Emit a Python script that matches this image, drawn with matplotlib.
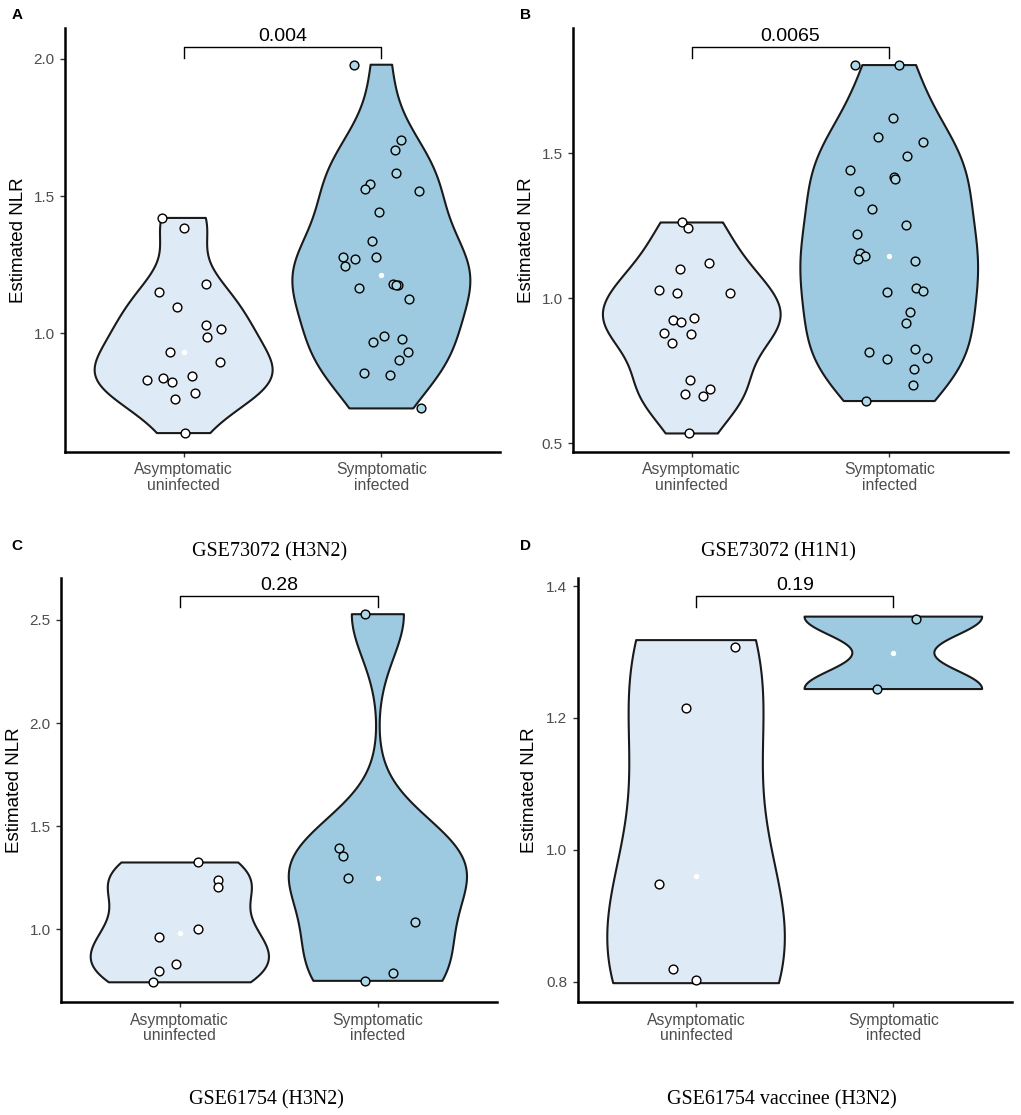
import numpy as np
import matplotlib
matplotlib.use("Agg")
import matplotlib.pyplot as plt
import matplotlib.transforms as mtransforms

plt.rcParams['font.family'] = ['Liberation Sans', 'DejaVu Sans']

# ---------------- data ----------------
categories = ["Asymptomatic\nuninfected", "Symptomatic\ninfected"]
captions = ["GSE73072 (H3N2)", "GSE73072 (H1N1)", "GSE61754 (H3N2)", "GSE61754 vaccinee (H3N2)"]
panel_letters = ["A", "B", "C", "D"]
p_values = ["0.004", "0.0065", "0.28", "0.19"]

# Panel A: GSE73072 (H3N2)
a_uninf = [1.420, 1.383, 1.179, 1.148, 1.094, 1.028, 1.013, 0.987, 0.931, 0.894,
           0.845, 0.830, 0.835, 0.822, 0.783, 0.760, 0.635]
a_uninf_jit = [-0.108, 0.002, 0.115, -0.125, -0.034, 0.115, 0.187, 0.118, -0.071, 0.185,
               0.042, -0.184, -0.103, -0.057, 0.057, -0.046, 0.008]
a_inf = [1.979, 1.704, 1.669, 1.584, 1.543, 1.524, 1.519, 1.443, 1.337, 1.279,
         1.269, 1.279, 1.243, 1.163, 1.178, 1.174, 1.125, 0.990, 0.968, 0.978,
         0.932, 0.903, 0.855, 0.847, 0.725, 1.176]
a_inf_jit = [-0.140, 0.098, 0.071, 0.076, -0.059, -0.083, 0.189, -0.012, -0.049, -0.196,
             -0.132, -0.027, -0.182, -0.111, 0.059, 0.086, 0.140, 0.012, -0.040, 0.106,
             0.137, 0.088, -0.086, 0.044, 0.201, 0.072]

# Panel B: GSE73072 (H1N1)
b_uninf = [1.2615, 1.244, 1.122, 1.100, 1.028, 1.018, 1.017, 0.925, 0.919, 0.931,
           0.881, 0.876, 0.847, 0.717, 0.688, 0.669, 0.662, 0.533]
b_uninf_jit = [-0.047, -0.018, 0.087, -0.059, -0.166, -0.074, 0.193, -0.097, -0.054, 0.012,
               -0.140, -0.005, -0.101, -0.010, 0.092, -0.035, 0.059, -0.012]
b_inf = [1.805, 1.805, 1.622, 1.555, 1.539, 1.491, 1.442, 1.417, 1.410, 1.369,
         1.309, 1.253, 1.222, 1.156, 1.146, 1.136, 1.127, 1.020, 1.036, 1.025,
         0.952, 0.915, 0.815, 0.825, 0.791, 0.793, 0.756, 0.702, 0.645]
b_inf_jit = [-0.173, 0.050, 0.020, -0.055, 0.173, 0.089, -0.198, 0.024, 0.027, -0.155,
             -0.089, 0.084, -0.165, -0.150, -0.124, -0.160, 0.129, -0.010, 0.134, 0.171,
             0.104, 0.087, -0.103, 0.129, -0.013, 0.193, 0.126, 0.119, -0.116]

# Panel C: GSE61754 (H3N2)
c_uninf = [1.324, 1.239, 1.205, 1.002, 0.963, 0.834, 0.797, 0.743]
c_uninf_jit = [0.091, 0.195, 0.195, 0.091, -0.104, -0.018, -0.106, -0.136]
c_inf = [2.528, 1.392, 1.356, 1.251, 1.034, 0.786, 0.750]
c_inf_jit = [-0.067, -0.195, -0.178, -0.151, 0.187, 0.076, -0.067]

# Panel D: GSE61754 vaccinee (H3N2)
d_uninf = [1.318, 1.2155, 0.960, 0.819, 0.798]
d_uninf_jit = [0.199, -0.051, -0.187, -0.118, 0.0]
d_uninf_yjit = [-0.010, 0.0, -0.012, 0.0, 0.0045]
d_inf = [1.3536, 1.2438]
d_inf_jit = [0.116, -0.081]
d_inf_yjit = [-0.004, 0.0006]

y_ticks = [[1.0, 1.5, 2.0], [0.5, 1.0, 1.5], [1.0, 1.5, 2.0, 2.5], [0.8, 1.0, 1.2, 1.4]]
y_limits = [(0.566, 2.113), (0.469, 1.933), (0.646, 2.705), (0.769, 1.4126)]

# ---------------- styling ----------------
violin_fill = ["#DEEBF7", "#9ECAE1"]
point_fill = ["#FFFFFF", "#ADD8E6"]
W, H = 1021, 1115
fig = plt.figure(figsize=(W / 100, H / 100), dpi=100)

# axes boxes in pixels (left, right, top, bottom)
boxes = [(65, 500, 28, 452), (573.3, 1007.7, 28, 452),
         (61, 496.7, 577.7, 1002.3), (577.7, 1011.7, 577.7, 1002.3)]
caption_pos = [(270, 551.7), (778, 551.7), (266.7, 1100), (781.7, 1100)]
letter_pos = [(11.5, 15), (520, 15), (11.5, 546), (520, 546)]
ylabel_x = [-0.088, -0.088, -0.0865, -0.091]

panels = [
    ((a_uninf, a_uninf_jit, None), (a_inf, a_inf_jit, None)),
    ((b_uninf, b_uninf_jit, None), (b_inf, b_inf_jit, None)),
    ((c_uninf, c_uninf_jit, None), (c_inf, c_inf_jit, None)),
    ((d_uninf, d_uninf_jit, d_uninf_yjit), (d_inf, d_inf_jit, d_inf_yjit)),
]


def ydensity(vals):
    v = np.asarray(vals, float)
    n = len(v)
    sd = np.std(v, ddof=1)
    iqr = np.percentile(v, 75) - np.percentile(v, 25)
    lo = min(sd, iqr / 1.34) if iqr > 0 else sd
    bw = 0.9 * lo * n ** (-0.2)
    grid = np.linspace(v.min(), v.max(), 512)
    dens = np.exp(-0.5 * ((grid[:, None] - v[None, :]) / bw) ** 2).sum(axis=1)
    dens /= (n * bw * np.sqrt(2 * np.pi))
    return grid, dens / dens.max()


for i, groups in enumerate(panels):
    l, r, t, b = boxes[i]
    ax = fig.add_axes([l / W, 1 - b / H, (r - l) / W, (b - t) / H])
    for gi, (vals, jit, yjit) in enumerate(groups):
        pos = gi + 1
        grid, sd = ydensity(vals)
        hw = 0.45 * sd
        xs = np.concatenate([pos - hw, (pos + hw)[::-1]])
        ys = np.concatenate([grid, grid[::-1]])
        ax.fill(xs, ys, facecolor=violin_fill[gi], edgecolor="#1a1a1a", linewidth=1.5,
                joinstyle="round", zorder=2)
        ax.scatter([pos], [np.median(vals)], s=15, color="white", zorder=3, linewidths=0)
        yv = np.asarray(vals) + (np.asarray(yjit) if yjit is not None else 0)
        ax.scatter(pos + np.asarray(jit), yv, s=40, facecolor=point_fill[gi],
                   edgecolor="black", linewidths=1.0, zorder=4)

    ax.set_xlim(0.4, 2.6)
    ax.set_ylim(*y_limits[i])
    ax.set_xticks([1, 2])
    ax.set_xticklabels(categories, fontsize=11.3, color="#4D4D4D", linespacing=1.05)
    ax.set_yticks(y_ticks[i])
    ax.set_yticklabels([f"{v:.1f}" for v in y_ticks[i]], fontsize=11, color="#4D4D4D")
    ax.tick_params(axis="both", length=3.5, width=1.0, color="#333333", pad=4)
    for side in ["top", "right"]:
        ax.spines[side].set_visible(False)
    for side in ["left", "bottom"]:
        ax.spines[side].set_linewidth(1.8)
        ax.spines[side].set_color("black")
    ax.set_ylabel("Estimated NLR", fontsize=13.5, color="black")
    ax.yaxis.set_label_coords(ylabel_x[i], 0.5)
    ax.patch.set_alpha(0)

    trans = mtransforms.blended_transform_factory(ax.transData, ax.transAxes)
    ax.plot([1, 1, 2, 2], [0.930, 0.956, 0.956, 0.930], color="black", lw=1.0,
            transform=trans, clip_on=False, zorder=5)
    ax.text(1.5, 0.981, p_values[i], transform=trans, ha="center", va="center",
            fontsize=14, color="black")

    cx, cy = caption_pos[i]
    fig.text(cx / W, 1 - cy / H, captions[i], ha="center", va="center",
             fontsize=14.4, family=["Liberation Serif", "DejaVu Serif"])
    lx, ly = letter_pos[i]
    fig.text(lx / W, 1 - ly / H, panel_letters[i], ha="left", va="center",
             fontsize=11, fontweight="bold")

fig.savefig("out.png", dpi=100)
